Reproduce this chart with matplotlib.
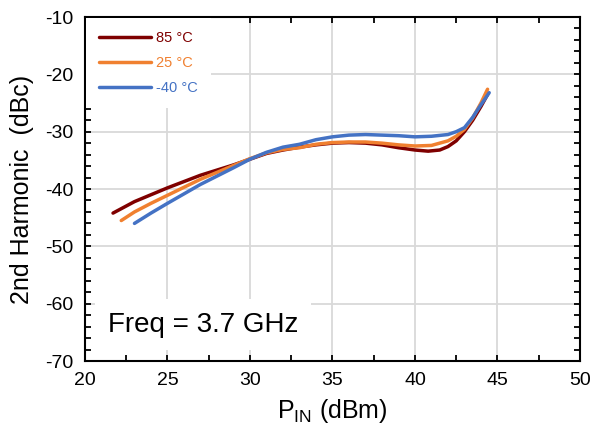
import matplotlib.pyplot as plt
from matplotlib.ticker import MultipleLocator

plt.rcParams['font.family'] = ['Liberation Sans', 'DejaVu Sans']
plt.rcParams['axes.unicode_minus'] = False

# 2nd harmonic vs input power
pin_85 = [21.7, 23, 25, 27, 29, 30, 31, 32, 33, 34, 35, 36, 37, 38, 39, 40,
          40.8, 41.5, 42, 42.5, 43, 43.5, 44, 44.4]
h2_85 = [-44.2, -42.2, -39.8, -37.6, -35.8, -34.8, -33.8, -33.2, -32.7, -32.3,
         -32.0, -31.9, -32.0, -32.3, -32.8, -33.2, -33.4, -33.2, -32.6, -31.6,
         -30.0, -28.0, -25.6, -23.5]

pin_25 = [22.2, 23, 24, 25, 27, 29, 30, 31, 32, 33, 34, 35, 36, 37, 38, 39, 40,
          41, 42, 42.5, 43, 43.5, 44, 44.4]
h2_25 = [-45.5, -44.0, -42.5, -41.1, -38.3, -35.9, -34.7, -33.7, -33.1, -32.8,
         -32.2, -31.9, -31.8, -31.8, -32.0, -32.3, -32.5, -32.4, -31.6, -30.8,
         -29.6, -27.6, -25.0, -22.6]

pin_m40 = [23.0, 24, 25, 27, 29, 30, 31, 32, 33, 34, 35, 36, 37, 38, 39, 40,
           41, 42, 42.5, 43, 43.5, 44, 44.5]
h2_m40 = [-46.0, -44.2, -42.5, -39.2, -36.3, -34.8, -33.6, -32.7, -32.2, -31.4,
          -30.9, -30.6, -30.5, -30.6, -30.7, -30.9, -30.8, -30.5, -30.0, -29.3,
          -27.5, -25.3, -23.2]

fig = plt.figure(figsize=(5.93, 4.34), dpi=100)
ax = fig.add_axes([0.1433, 0.1682, 0.8347, 0.7926])

lw = 2.5
ax.plot(pin_85, h2_85, color='#7F0000', lw=lw, label='85 °C', solid_capstyle='round')
ax.plot(pin_25, h2_25, color='#F08030', lw=lw, label='25 °C', solid_capstyle='round')
ax.plot(pin_m40, h2_m40, color='#4472C4', lw=lw, label='-40 °C', solid_capstyle='round')

ax.set_xlim(20, 50)
ax.set_ylim(-70, -10)
ax.xaxis.set_major_locator(MultipleLocator(5))
ax.xaxis.set_minor_locator(MultipleLocator(2.5))
ax.yaxis.set_major_locator(MultipleLocator(10))
ax.yaxis.set_minor_locator(MultipleLocator(2))

ax.grid(True, which='major', color='#D9D9D9', lw=1.3)
ax.set_axisbelow(True)
ax.tick_params(which='both', direction='in', top=True, right=True,
               length=4, width=1.3, labelsize=14, pad=8)
for s in ax.spines.values():
    s.set_linewidth(1.5)

ax.set_xlabel(r'P$_{\mathregular{IN}}$ (dBm)', fontsize=18, labelpad=6)
ax.set_ylabel('2nd Harmonic  (dBc)', fontsize=18, labelpad=8)

leg = ax.legend(loc='upper left', fontsize=10.5, handlelength=3.6,
                handletextpad=0.3, labelspacing=0.75, borderpad=0.9,
                borderaxespad=0.05, frameon=True, fancybox=False,
                labelcolor='linecolor')
leg.get_frame().set_edgecolor('none')
leg.get_frame().set_facecolor('white')
leg.get_frame().set_alpha(1)

ax.text(0.0465, 0.105, 'Freq = 3.7 GHz', transform=ax.transAxes,
        fontsize=20, va='center', ha='left',
        bbox=dict(facecolor='white', edgecolor='none', pad=9))

fig.savefig('out.png', dpi=100)
